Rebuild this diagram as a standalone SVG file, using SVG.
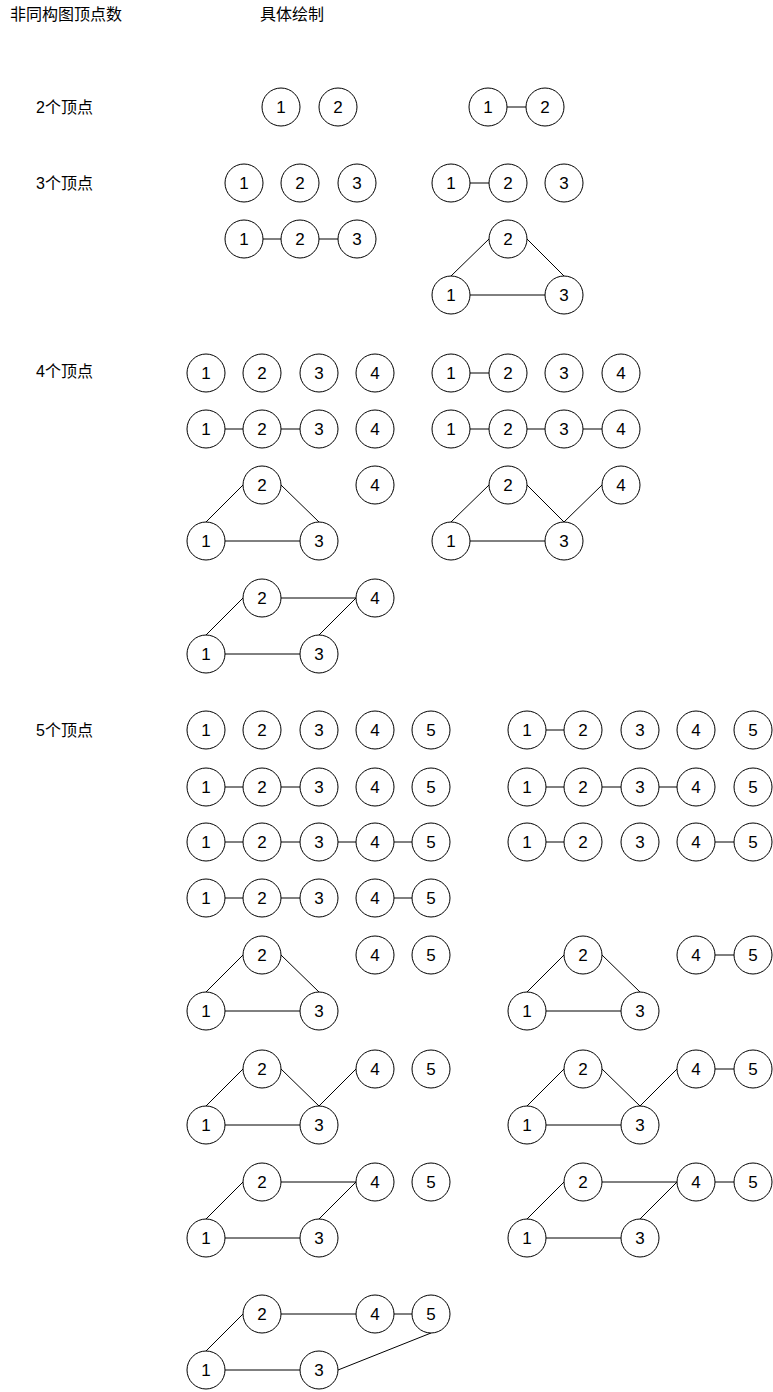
<svg xmlns="http://www.w3.org/2000/svg" width="773" height="1392" viewBox="0 0 773 1392">
<style>
.node circle{fill:#fff;stroke:#000;stroke-width:1}
.node text{font-family:"Liberation Sans",Arial,sans-serif;font-size:17px;text-anchor:middle;fill:#000}
.lbl{font-family:"Liberation Sans","Noto Sans CJK SC",sans-serif;font-size:16px;fill:#000}
#edges line{stroke:#000;stroke-width:1}
</style>
<rect width="773" height="1392" fill="#fff"/>
<g id="labels">
<text class="lbl" x="10" y="20">非同构图顶点数</text>
<text class="lbl" x="260" y="20">具体绘制</text>
<text class="lbl" x="36" y="113">2个顶点</text>
<text class="lbl" x="36" y="189">3个顶点</text>
<text class="lbl" x="36" y="377">4个顶点</text>
<text class="lbl" x="36" y="736">5个顶点</text>
</g>
<g id="edges">
<line x1="507" y1="107" x2="526" y2="107"/>
<line x1="470" y1="183" x2="489" y2="183"/>
<line x1="263" y1="239" x2="281" y2="239"/><line x1="319" y1="239" x2="338" y2="239"/>
<line x1="451" y1="276" x2="489" y2="239"/><line x1="527" y1="239" x2="564" y2="276"/><line x1="470" y1="295" x2="545" y2="295"/>
<line x1="470" y1="373" x2="489" y2="373"/>
<line x1="225" y1="429" x2="243" y2="429"/><line x1="281" y1="429" x2="300" y2="429"/>
<line x1="470" y1="429" x2="489" y2="429"/><line x1="527" y1="429" x2="545" y2="429"/><line x1="583" y1="429" x2="602" y2="429"/>
<line x1="206" y1="522" x2="243" y2="485"/><line x1="281" y1="485" x2="319" y2="522"/><line x1="225" y1="541" x2="300" y2="541"/>
<line x1="451" y1="522" x2="489" y2="485"/><line x1="527" y1="485" x2="564" y2="522"/><line x1="470" y1="541" x2="545" y2="541"/><line x1="564" y1="522" x2="602" y2="485"/>
<line x1="206" y1="635" x2="243" y2="598"/><line x1="281" y1="598" x2="356" y2="598"/><line x1="319" y1="635" x2="356" y2="598"/><line x1="225" y1="654" x2="300" y2="654"/>
<line x1="546" y1="730" x2="564" y2="730"/>
<line x1="225" y1="787" x2="243" y2="787"/><line x1="281" y1="787" x2="300" y2="787"/>
<line x1="546" y1="787" x2="564" y2="787"/><line x1="602" y1="787" x2="621" y2="787"/><line x1="659" y1="787" x2="677" y2="787"/>
<line x1="225" y1="842" x2="243" y2="842"/><line x1="281" y1="842" x2="300" y2="842"/><line x1="338" y1="842" x2="356" y2="842"/><line x1="394" y1="842" x2="412" y2="842"/>
<line x1="546" y1="842" x2="564" y2="842"/><line x1="715" y1="842" x2="734" y2="842"/>
<line x1="225" y1="898" x2="243" y2="898"/><line x1="281" y1="898" x2="300" y2="898"/><line x1="394" y1="898" x2="412" y2="898"/>
<line x1="206" y1="992" x2="243" y2="955"/><line x1="281" y1="955" x2="319" y2="992"/><line x1="225" y1="1011" x2="300" y2="1011"/>
<line x1="527" y1="992" x2="564" y2="955"/><line x1="602" y1="955" x2="640" y2="992"/><line x1="546" y1="1011" x2="621" y2="1011"/><line x1="715" y1="955" x2="734" y2="955"/>
<line x1="206" y1="1106" x2="243" y2="1069"/><line x1="281" y1="1069" x2="319" y2="1106"/><line x1="225" y1="1125" x2="300" y2="1125"/><line x1="319" y1="1106" x2="356" y2="1069"/>
<line x1="527" y1="1106" x2="564" y2="1069"/><line x1="602" y1="1069" x2="640" y2="1106"/><line x1="546" y1="1125" x2="621" y2="1125"/><line x1="640" y1="1106" x2="677" y2="1069"/><line x1="715" y1="1069" x2="734" y2="1069"/>
<line x1="206" y1="1219" x2="243" y2="1182"/><line x1="281" y1="1182" x2="356" y2="1182"/><line x1="319" y1="1219" x2="356" y2="1182"/><line x1="225" y1="1238" x2="300" y2="1238"/>
<line x1="527" y1="1219" x2="564" y2="1182"/><line x1="602" y1="1182" x2="677" y2="1182"/><line x1="640" y1="1219" x2="677" y2="1182"/><line x1="546" y1="1238" x2="621" y2="1238"/><line x1="715" y1="1182" x2="734" y2="1182"/>
<line x1="206" y1="1351" x2="243" y2="1314"/><line x1="281" y1="1314" x2="356" y2="1314"/><line x1="394" y1="1314" x2="412" y2="1314"/><line x1="338" y1="1370" x2="431" y2="1333"/><line x1="225" y1="1370" x2="300" y2="1370"/>
</g>
<g id="g2a"><g id="g2a-1" class="node"><circle cx="281" cy="107" r="19"/><text x="281" y="113">1</text></g><g id="g2a-2" class="node"><circle cx="338" cy="107" r="19"/><text x="338" y="113">2</text></g></g>
<g id="g2b"><g id="g2b-1" class="node"><circle cx="488" cy="107" r="19"/><text x="488" y="113">1</text></g><g id="g2b-2" class="node"><circle cx="545" cy="107" r="19"/><text x="545" y="113">2</text></g></g>
<g id="g3a"><g id="g3a-1" class="node"><circle cx="244" cy="183" r="19"/><text x="244" y="189">1</text></g><g id="g3a-2" class="node"><circle cx="300" cy="183" r="19"/><text x="300" y="189">2</text></g><g id="g3a-3" class="node"><circle cx="357" cy="183" r="19"/><text x="357" y="189">3</text></g></g>
<g id="g3b"><g id="g3b-1" class="node"><circle cx="451" cy="183" r="19"/><text x="451" y="189">1</text></g><g id="g3b-2" class="node"><circle cx="508" cy="183" r="19"/><text x="508" y="189">2</text></g><g id="g3b-3" class="node"><circle cx="564" cy="183" r="19"/><text x="564" y="189">3</text></g></g>
<g id="g3c"><g id="g3c-1" class="node"><circle cx="244" cy="239" r="19"/><text x="244" y="245">1</text></g><g id="g3c-2" class="node"><circle cx="300" cy="239" r="19"/><text x="300" y="245">2</text></g><g id="g3c-3" class="node"><circle cx="357" cy="239" r="19"/><text x="357" y="245">3</text></g></g>
<g id="g3d"><g id="g3d-1" class="node"><circle cx="451" cy="295" r="19"/><text x="451" y="301">1</text></g><g id="g3d-2" class="node"><circle cx="508" cy="239" r="19"/><text x="508" y="245">2</text></g><g id="g3d-3" class="node"><circle cx="564" cy="295" r="19"/><text x="564" y="301">3</text></g></g>
<g id="g4a"><g id="g4a-1" class="node"><circle cx="206" cy="373" r="19"/><text x="206" y="379">1</text></g><g id="g4a-2" class="node"><circle cx="262" cy="373" r="19"/><text x="262" y="379">2</text></g><g id="g4a-3" class="node"><circle cx="319" cy="373" r="19"/><text x="319" y="379">3</text></g><g id="g4a-4" class="node"><circle cx="375" cy="373" r="19"/><text x="375" y="379">4</text></g></g>
<g id="g4b"><g id="g4b-1" class="node"><circle cx="451" cy="373" r="19"/><text x="451" y="379">1</text></g><g id="g4b-2" class="node"><circle cx="508" cy="373" r="19"/><text x="508" y="379">2</text></g><g id="g4b-3" class="node"><circle cx="564" cy="373" r="19"/><text x="564" y="379">3</text></g><g id="g4b-4" class="node"><circle cx="621" cy="373" r="19"/><text x="621" y="379">4</text></g></g>
<g id="g4c"><g id="g4c-1" class="node"><circle cx="206" cy="429" r="19"/><text x="206" y="435">1</text></g><g id="g4c-2" class="node"><circle cx="262" cy="429" r="19"/><text x="262" y="435">2</text></g><g id="g4c-3" class="node"><circle cx="319" cy="429" r="19"/><text x="319" y="435">3</text></g><g id="g4c-4" class="node"><circle cx="375" cy="429" r="19"/><text x="375" y="435">4</text></g></g>
<g id="g4d"><g id="g4d-1" class="node"><circle cx="451" cy="429" r="19"/><text x="451" y="435">1</text></g><g id="g4d-2" class="node"><circle cx="508" cy="429" r="19"/><text x="508" y="435">2</text></g><g id="g4d-3" class="node"><circle cx="564" cy="429" r="19"/><text x="564" y="435">3</text></g><g id="g4d-4" class="node"><circle cx="621" cy="429" r="19"/><text x="621" y="435">4</text></g></g>
<g id="g4e"><g id="g4e-1" class="node"><circle cx="206" cy="541" r="19"/><text x="206" y="547">1</text></g><g id="g4e-2" class="node"><circle cx="262" cy="485" r="19"/><text x="262" y="491">2</text></g><g id="g4e-3" class="node"><circle cx="319" cy="541" r="19"/><text x="319" y="547">3</text></g><g id="g4e-4" class="node"><circle cx="375" cy="485" r="19"/><text x="375" y="491">4</text></g></g>
<g id="g4f"><g id="g4f-1" class="node"><circle cx="451" cy="541" r="19"/><text x="451" y="547">1</text></g><g id="g4f-2" class="node"><circle cx="508" cy="485" r="19"/><text x="508" y="491">2</text></g><g id="g4f-3" class="node"><circle cx="564" cy="541" r="19"/><text x="564" y="547">3</text></g><g id="g4f-4" class="node"><circle cx="621" cy="485" r="19"/><text x="621" y="491">4</text></g></g>
<g id="g4g"><g id="g4g-1" class="node"><circle cx="206" cy="654" r="19"/><text x="206" y="660">1</text></g><g id="g4g-2" class="node"><circle cx="262" cy="598" r="19"/><text x="262" y="604">2</text></g><g id="g4g-3" class="node"><circle cx="319" cy="654" r="19"/><text x="319" y="660">3</text></g><g id="g4g-4" class="node"><circle cx="375" cy="598" r="19"/><text x="375" y="604">4</text></g></g>
<g id="g5a"><g id="g5a-1" class="node"><circle cx="206" cy="730" r="19"/><text x="206" y="736">1</text></g><g id="g5a-2" class="node"><circle cx="262" cy="730" r="19"/><text x="262" y="736">2</text></g><g id="g5a-3" class="node"><circle cx="319" cy="730" r="19"/><text x="319" y="736">3</text></g><g id="g5a-4" class="node"><circle cx="375" cy="730" r="19"/><text x="375" y="736">4</text></g><g id="g5a-5" class="node"><circle cx="431" cy="730" r="19"/><text x="431" y="736">5</text></g></g>
<g id="g5b"><g id="g5b-1" class="node"><circle cx="527" cy="730" r="19"/><text x="527" y="736">1</text></g><g id="g5b-2" class="node"><circle cx="583" cy="730" r="19"/><text x="583" y="736">2</text></g><g id="g5b-3" class="node"><circle cx="640" cy="730" r="19"/><text x="640" y="736">3</text></g><g id="g5b-4" class="node"><circle cx="696" cy="730" r="19"/><text x="696" y="736">4</text></g><g id="g5b-5" class="node"><circle cx="753" cy="730" r="19"/><text x="753" y="736">5</text></g></g>
<g id="g5c"><g id="g5c-1" class="node"><circle cx="206" cy="787" r="19"/><text x="206" y="793">1</text></g><g id="g5c-2" class="node"><circle cx="262" cy="787" r="19"/><text x="262" y="793">2</text></g><g id="g5c-3" class="node"><circle cx="319" cy="787" r="19"/><text x="319" y="793">3</text></g><g id="g5c-4" class="node"><circle cx="375" cy="787" r="19"/><text x="375" y="793">4</text></g><g id="g5c-5" class="node"><circle cx="431" cy="787" r="19"/><text x="431" y="793">5</text></g></g>
<g id="g5d"><g id="g5d-1" class="node"><circle cx="527" cy="787" r="19"/><text x="527" y="793">1</text></g><g id="g5d-2" class="node"><circle cx="583" cy="787" r="19"/><text x="583" y="793">2</text></g><g id="g5d-3" class="node"><circle cx="640" cy="787" r="19"/><text x="640" y="793">3</text></g><g id="g5d-4" class="node"><circle cx="696" cy="787" r="19"/><text x="696" y="793">4</text></g><g id="g5d-5" class="node"><circle cx="753" cy="787" r="19"/><text x="753" y="793">5</text></g></g>
<g id="g5e"><g id="g5e-1" class="node"><circle cx="206" cy="842" r="19"/><text x="206" y="848">1</text></g><g id="g5e-2" class="node"><circle cx="262" cy="842" r="19"/><text x="262" y="848">2</text></g><g id="g5e-3" class="node"><circle cx="319" cy="842" r="19"/><text x="319" y="848">3</text></g><g id="g5e-4" class="node"><circle cx="375" cy="842" r="19"/><text x="375" y="848">4</text></g><g id="g5e-5" class="node"><circle cx="431" cy="842" r="19"/><text x="431" y="848">5</text></g></g>
<g id="g5f"><g id="g5f-1" class="node"><circle cx="527" cy="842" r="19"/><text x="527" y="848">1</text></g><g id="g5f-2" class="node"><circle cx="583" cy="842" r="19"/><text x="583" y="848">2</text></g><g id="g5f-3" class="node"><circle cx="640" cy="842" r="19"/><text x="640" y="848">3</text></g><g id="g5f-4" class="node"><circle cx="696" cy="842" r="19"/><text x="696" y="848">4</text></g><g id="g5f-5" class="node"><circle cx="753" cy="842" r="19"/><text x="753" y="848">5</text></g></g>
<g id="g5g"><g id="g5g-1" class="node"><circle cx="206" cy="898" r="19"/><text x="206" y="904">1</text></g><g id="g5g-2" class="node"><circle cx="262" cy="898" r="19"/><text x="262" y="904">2</text></g><g id="g5g-3" class="node"><circle cx="319" cy="898" r="19"/><text x="319" y="904">3</text></g><g id="g5g-4" class="node"><circle cx="375" cy="898" r="19"/><text x="375" y="904">4</text></g><g id="g5g-5" class="node"><circle cx="431" cy="898" r="19"/><text x="431" y="904">5</text></g></g>
<g id="g5h"><g id="g5h-1" class="node"><circle cx="206" cy="1011" r="19"/><text x="206" y="1017">1</text></g><g id="g5h-2" class="node"><circle cx="262" cy="955" r="19"/><text x="262" y="961">2</text></g><g id="g5h-3" class="node"><circle cx="319" cy="1011" r="19"/><text x="319" y="1017">3</text></g><g id="g5h-4" class="node"><circle cx="375" cy="955" r="19"/><text x="375" y="961">4</text></g><g id="g5h-5" class="node"><circle cx="431" cy="955" r="19"/><text x="431" y="961">5</text></g></g>
<g id="g5i"><g id="g5i-1" class="node"><circle cx="527" cy="1011" r="19"/><text x="527" y="1017">1</text></g><g id="g5i-2" class="node"><circle cx="583" cy="955" r="19"/><text x="583" y="961">2</text></g><g id="g5i-3" class="node"><circle cx="640" cy="1011" r="19"/><text x="640" y="1017">3</text></g><g id="g5i-4" class="node"><circle cx="696" cy="955" r="19"/><text x="696" y="961">4</text></g><g id="g5i-5" class="node"><circle cx="753" cy="955" r="19"/><text x="753" y="961">5</text></g></g>
<g id="g5j"><g id="g5j-1" class="node"><circle cx="206" cy="1125" r="19"/><text x="206" y="1131">1</text></g><g id="g5j-2" class="node"><circle cx="262" cy="1069" r="19"/><text x="262" y="1075">2</text></g><g id="g5j-3" class="node"><circle cx="319" cy="1125" r="19"/><text x="319" y="1131">3</text></g><g id="g5j-4" class="node"><circle cx="375" cy="1069" r="19"/><text x="375" y="1075">4</text></g><g id="g5j-5" class="node"><circle cx="431" cy="1069" r="19"/><text x="431" y="1075">5</text></g></g>
<g id="g5k"><g id="g5k-1" class="node"><circle cx="527" cy="1125" r="19"/><text x="527" y="1131">1</text></g><g id="g5k-2" class="node"><circle cx="583" cy="1069" r="19"/><text x="583" y="1075">2</text></g><g id="g5k-3" class="node"><circle cx="640" cy="1125" r="19"/><text x="640" y="1131">3</text></g><g id="g5k-4" class="node"><circle cx="696" cy="1069" r="19"/><text x="696" y="1075">4</text></g><g id="g5k-5" class="node"><circle cx="753" cy="1069" r="19"/><text x="753" y="1075">5</text></g></g>
<g id="g5l"><g id="g5l-1" class="node"><circle cx="206" cy="1238" r="19"/><text x="206" y="1244">1</text></g><g id="g5l-2" class="node"><circle cx="262" cy="1182" r="19"/><text x="262" y="1188">2</text></g><g id="g5l-3" class="node"><circle cx="319" cy="1238" r="19"/><text x="319" y="1244">3</text></g><g id="g5l-4" class="node"><circle cx="375" cy="1182" r="19"/><text x="375" y="1188">4</text></g><g id="g5l-5" class="node"><circle cx="431" cy="1182" r="19"/><text x="431" y="1188">5</text></g></g>
<g id="g5m"><g id="g5m-1" class="node"><circle cx="527" cy="1238" r="19"/><text x="527" y="1244">1</text></g><g id="g5m-2" class="node"><circle cx="583" cy="1182" r="19"/><text x="583" y="1188">2</text></g><g id="g5m-3" class="node"><circle cx="640" cy="1238" r="19"/><text x="640" y="1244">3</text></g><g id="g5m-4" class="node"><circle cx="696" cy="1182" r="19"/><text x="696" y="1188">4</text></g><g id="g5m-5" class="node"><circle cx="753" cy="1182" r="19"/><text x="753" y="1188">5</text></g></g>
<g id="g5n"><g id="g5n-1" class="node"><circle cx="206" cy="1370" r="19"/><text x="206" y="1376">1</text></g><g id="g5n-2" class="node"><circle cx="262" cy="1314" r="19"/><text x="262" y="1320">2</text></g><g id="g5n-3" class="node"><circle cx="319" cy="1370" r="19"/><text x="319" y="1376">3</text></g><g id="g5n-4" class="node"><circle cx="375" cy="1314" r="19"/><text x="375" y="1320">4</text></g><g id="g5n-5" class="node"><circle cx="431" cy="1314" r="19"/><text x="431" y="1320">5</text></g></g>
</svg>
